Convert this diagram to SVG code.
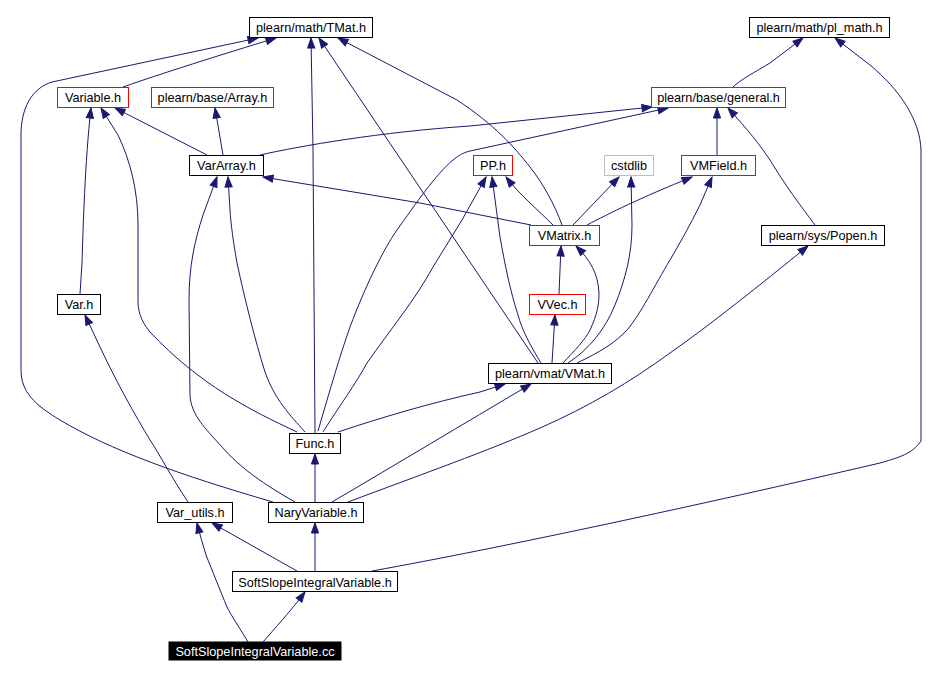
<svg xmlns="http://www.w3.org/2000/svg" width="940" height="678" viewBox="0 0 940 678">
<style>
.n rect{fill:#fff;stroke:#000;stroke-width:1}
.n.r rect{stroke:#ff0000}
.n.g rect{stroke:#bfbfbf}
.n text{font-family:"Liberation Sans",Arial,sans-serif;font-size:12.7px;fill:#000;text-anchor:middle}
.n.root rect{fill:#000;stroke:#000}
.n.root text{fill:#fff}
#edges path{fill:none;stroke:#191970;stroke-width:1;marker-end:url(#ah)}
</style>
<defs>
<marker id="ah" markerUnits="userSpaceOnUse" markerWidth="11" markerHeight="9" refX="10" refY="4" orient="auto" viewBox="0 0 11 8" overflow="visible">
<path d="M0,0.4 L10,4 L0,7.6 z" fill="#191970" stroke="#191970" stroke-width="1"/>
</marker>
</defs>
<rect width="940" height="678" fill="#fff"/>
<g id="edges">
<path d="M123,87 C160,74 220,55 276,38"/>
<path d="M273,502 C180,475 110,450 60,420 C35,405 21,392 21,370 L21,135 C21,108 32,88 52,82 L258,38"/>
<path d="M315,433 L313,150 L311,38"/>
<path d="M538,363 L319,38"/>
<path d="M562,225 C555,205 542,182 530,167 C515,148 495,125 457,100 L338,38"/>
<path d="M80,294 L82,263 C83,230 85,160 91,108"/>
<path d="M297,432 C250,410 200,385 150,332 C140,320 138,310 138,300 L138,225 C138,190 130,160 118,135 L101,108"/>
<path d="M207,155 L115,108"/>
<path d="M223,155 L215,108"/>
<path d="M260,155 C300,146 380,132 470,126 L652,107"/>
<path d="M318,431 C330,390 340,355 350,327 C365,287 383,250 397,230 C415,205 435,175 453,160 C458,156 462,153 470,151 L668,108"/>
<path d="M305,432 C290,415 275,400 265,372 C255,340 245,300 237,263 C233,240 231,225 230,210 L228,177"/>
<path d="M295,502 C265,485 240,468 222,447 C205,428 191,415 190,395 L189,300 C189,265 195,240 203,215 L217,177"/>
<path d="M531,225 L420,203 L263,177"/>
<path d="M553,225 C538,210 520,195 506,177"/>
<path d="M541,363 C530,345 522,330 518,315 C510,290 505,265 500,237 L492,177"/>
<path d="M573,225 L619,177"/>
<path d="M568,363 C588,350 605,330 615,305 C625,280 632,255 632,225 L631,177"/>
<path d="M587,225 C610,213 640,198 692,177"/>
<path d="M577,363 C600,352 615,343 627,330 C640,315 655,285 670,260 C680,243 690,225 700,205 L712,177"/>
<path d="M717,155 L717,108"/>
<path d="M815,225 C800,205 785,185 770,160 C760,145 748,130 728,108"/>
<path d="M733,87 C740,80 755,72 770,63 L803,38"/>
<path d="M372,571 C500,548 700,505 880,463 C905,456 913,452 921,441 L921,150 C920,120 900,90 870,65 L835,38"/>
<path d="M559,294 L561,246"/>
<path d="M563,363 C575,350 585,340 590,330 C597,315 599,305 599,293 C598,273 590,260 576,246"/>
<path d="M552,363 L555,315"/>
<path d="M348,502 C420,475 490,450 540,428 C590,406 630,382 670,353 C710,325 760,285 808,246"/>
<path d="M338,432 C380,418 430,403 480,392 L505,384"/>
<path d="M332,502 C400,462 460,426 531,384"/>
<path d="M315,502 L315,454"/>
<path d="M188,502 C170,475 160,455 150,440 C135,415 118,385 100,347 L85,315"/>
<path d="M248,642 C238,625 232,617 227,607 C220,590 212,570 206,555 C203,545 200,535 197,523"/>
<path d="M297,571 L212,523"/>
<path d="M315,571 L315,523"/>
<path d="M263,642 C275,628 290,612 305,592"/>
<path d="M323,432 C340,405 355,385 367,363 C390,330 415,300 433,267 L462,220 L486,177"/>
</g>
<g id="n_tmat" class="n"><rect x="249.5" y="17.5" width="123" height="20"/><text x="311" y="32">plearn/math/TMat.h</text></g>
<g id="n_plmath" class="n"><rect x="749.5" y="17.5" width="140" height="20"/><text x="819.5" y="32">plearn/math/pl_math.h</text></g>
<g id="n_variable" class="n r"><rect x="57.5" y="87.5" width="71" height="20"/><text x="93" y="102">Variable.h</text></g>
<g id="n_array" class="n r"><rect x="151.5" y="87.5" width="122" height="20"/><text x="212.5" y="102">plearn/base/Array.h</text></g>
<g id="n_general" class="n r"><rect x="651.5" y="87.5" width="134" height="20"/><text x="718.5" y="102">plearn/base/general.h</text></g>
<g id="n_vararray" class="n"><rect x="189.5" y="155.5" width="74" height="20"/><text x="226.5" y="170">VarArray.h</text></g>
<g id="n_pp" class="n r"><rect x="473.5" y="155.5" width="39" height="20"/><text x="493" y="170">PP.h</text></g>
<g id="n_cstdlib" class="n g"><rect x="604.5" y="155.5" width="49" height="20"/><text x="629" y="170">cstdlib</text></g>
<g id="n_vmfield" class="n r"><rect x="681.5" y="155.5" width="74" height="20"/><text x="718.5" y="170">VMField.h</text></g>
<g id="n_vmatrix" class="n r"><rect x="529.5" y="225.5" width="70" height="20"/><text x="564.5" y="240">VMatrix.h</text></g>
<g id="n_popen" class="n"><rect x="761.5" y="225.5" width="123" height="20"/><text x="823" y="240">plearn/sys/Popen.h</text></g>
<g id="n_var" class="n"><rect x="57.5" y="294.5" width="43" height="20"/><text x="79" y="309">Var.h</text></g>
<g id="n_vvec" class="n r"><rect x="529.5" y="294.5" width="56" height="20"/><text x="557.5" y="309">VVec.h</text></g>
<g id="n_vmat" class="n"><rect x="488.5" y="363.5" width="123" height="20"/><text x="550" y="378">plearn/vmat/VMat.h</text></g>
<g id="n_func" class="n"><rect x="289.5" y="433.5" width="51" height="20"/><text x="315" y="448">Func.h</text></g>
<g id="n_varutils" class="n"><rect x="157.5" y="502.5" width="75" height="20"/><text x="195" y="517">Var_utils.h</text></g>
<g id="n_nary" class="n"><rect x="268.5" y="502.5" width="95" height="20"/><text x="316" y="517">NaryVariable.h</text></g>
<g id="n_softh" class="n"><rect x="232.5" y="571.5" width="165" height="20"/><text x="315" y="586.5">SoftSlopeIntegralVariable.h</text></g>
<g id="n_softcc" class="n root"><rect x="169" y="642" width="172" height="18"/><text x="255" y="656">SoftSlopeIntegralVariable.cc</text></g>
</svg>
